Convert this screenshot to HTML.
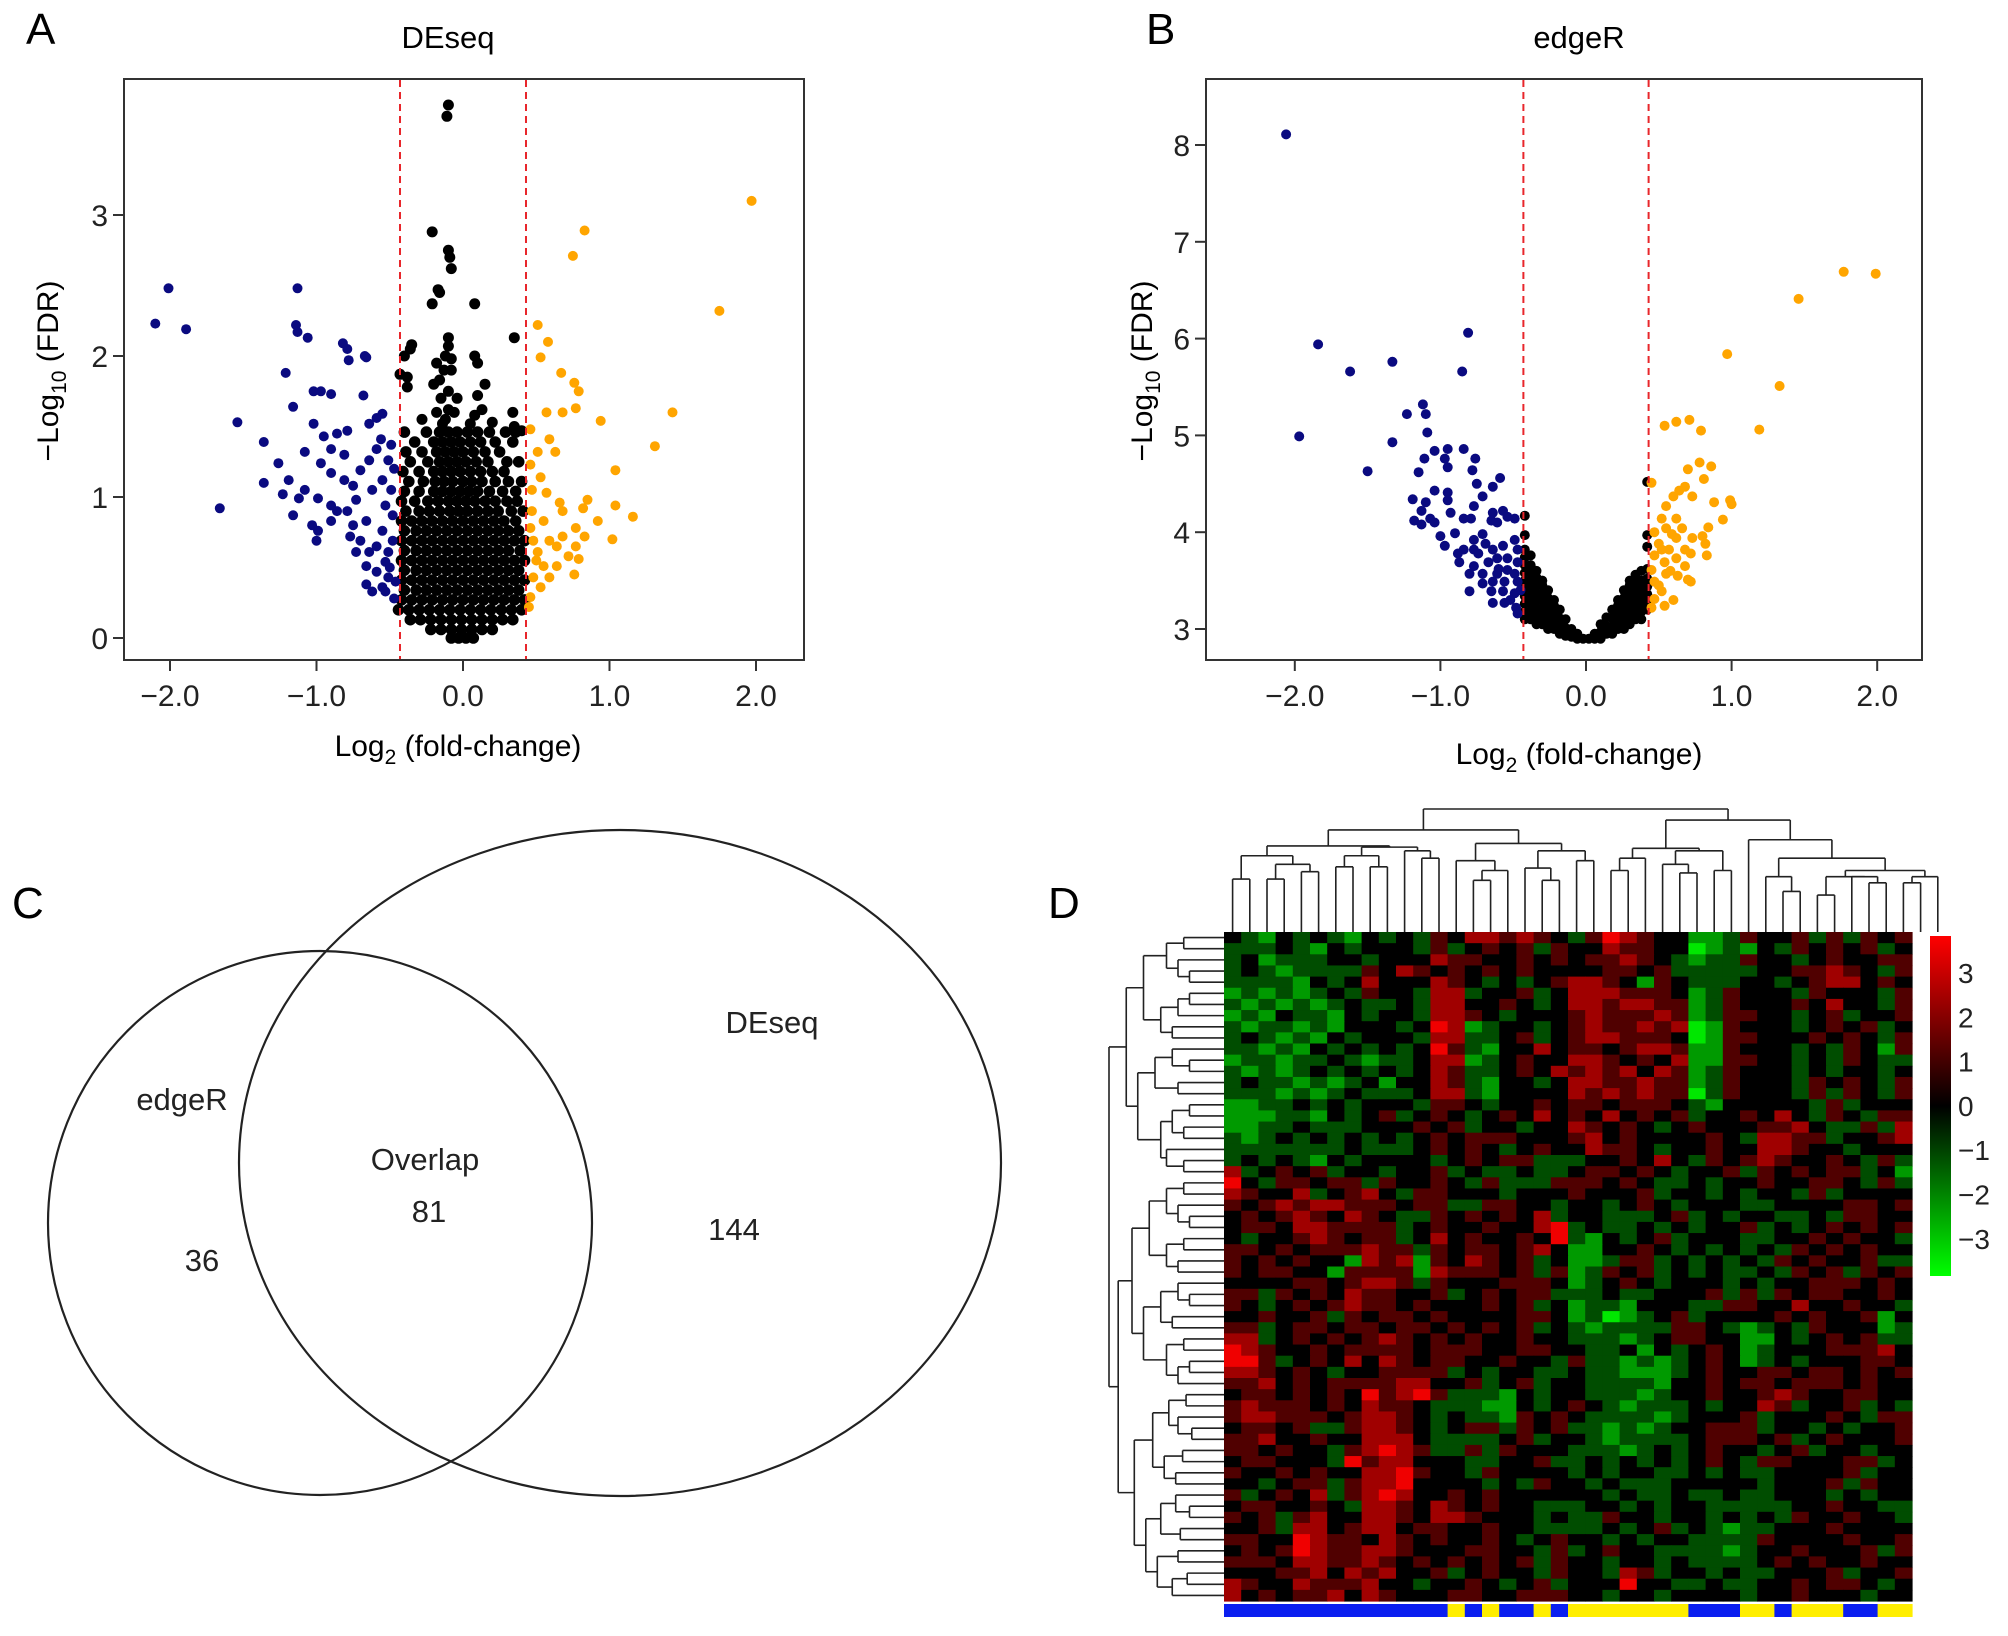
<!DOCTYPE html>
<html><head><meta charset="utf-8"><style>
body{margin:0;background:#fff;}
svg{display:block;font-family:"Liberation Sans",Arial,sans-serif;}
</style></head><body>
<svg id="fig" width="2008" height="1636" viewBox="0 0 2008 1636" xmlns="http://www.w3.org/2000/svg">
<rect width="2008" height="1636" fill="#fff"/>
<g id="panelA">
<text x="26" y="44" font-size="44">A</text>
<text x="448" y="48" font-size="31" text-anchor="middle">DEseq</text>
<rect x="124" y="79" width="680" height="581" fill="none" stroke="#333" stroke-width="2"/>
<text x="458" y="756" font-size="30" text-anchor="middle">Log<tspan font-size="21" dy="8">2</tspan><tspan dy="-8"> (fold-change)</tspan></text>
<text transform="translate(58,371) rotate(-90)" font-size="30" text-anchor="middle">−Log<tspan font-size="21" dy="8">10</tspan><tspan dy="-8"> (FDR)</tspan></text>
</g>
<g id="panelB">
<text x="1146" y="44" font-size="44">B</text>
<text x="1579" y="48" font-size="31" text-anchor="middle">edgeR</text>
<rect x="1206" y="79" width="716" height="581" fill="none" stroke="#333" stroke-width="2"/>
<text x="1579" y="764" font-size="30" text-anchor="middle">Log<tspan font-size="21" dy="8">2</tspan><tspan dy="-8"> (fold-change)</tspan></text>
<text transform="translate(1152,371) rotate(-90)" font-size="30" text-anchor="middle">−Log<tspan font-size="21" dy="8">10</tspan><tspan dy="-8"> (FDR)</tspan></text>
</g>
<g id="panelC">
<text x="12" y="918" font-size="44">C</text>
<circle cx="320" cy="1223" r="272" fill="none" stroke="#222" stroke-width="2.2"/>
<ellipse cx="620" cy="1163" rx="381" ry="333" fill="none" stroke="#222" stroke-width="2.2"/>
<g font-size="31" text-anchor="middle" fill="#222">
<text x="182" y="1110">edgeR</text>
<text x="202" y="1271">36</text>
<text x="425" y="1170">Overlap</text>
<text x="429" y="1222">81</text>
<text x="772" y="1033">DEseq</text>
<text x="734" y="1240">144</text>
</g>
</g>
<g id="panelD">
<text x="1048" y="918" font-size="44">D</text>
<defs><linearGradient id="kg" x1="0" y1="0" x2="0" y2="1">
<stop offset="0" stop-color="#ff0000"/><stop offset="0.5" stop-color="#000"/><stop offset="1" stop-color="#00ff00"/></linearGradient></defs>
<rect x="1930" y="936" width="21" height="340" fill="url(#kg)"/>
</g>
</svg>
<script>
// ---------- Panel A data (DEseq) ----------
const aTicksX=[-2,-1,0,1,2];
const aTickLabelsX=["−2.0","−1.0","0.0","1.0","2.0"];
const aTicksY=[0,1,2,3];
const aThresh=[-0.43,0.43];
const aDown=[[-2.10,2.23],[-2.01,2.48],[-1.89,2.19],[-1.66,0.92],[-1.54,1.53],[-1.36,1.39],[-1.36,1.10],[-1.26,1.24],[-1.23,1.02],[-1.21,1.88],[-1.16,1.64],[-1.13,2.48],[-1.14,2.22],[-1.13,2.17],[-1.06,2.13],[-1.19,1.12],[-1.16,0.87],[-1.08,1.32],[-1.02,1.75],[-0.97,1.75],[-0.9,1.73],[-1.02,1.52],[-1.03,0.8],[-1.0,0.69],[-0.99,0.76],[-0.95,1.43],[-0.9,1.34],[-0.86,1.45],[-0.79,1.47],[-0.82,2.09],[-0.79,2.05],[-0.78,1.97],[-0.66,1.99],[-0.67,2.0],[-0.68,1.72],[-0.9,1.17],[-0.81,1.12],[-0.86,0.9],[-0.9,0.83],[-0.77,0.72],[-0.73,0.61],[-0.66,0.51],[-0.66,0.38],[-0.62,0.33],[-0.55,0.36],[-0.51,0.43],[-0.55,1.59],[-0.59,1.56],[-0.64,1.52],[-0.56,1.41],[-0.59,1.34],[-0.51,1.26],[-0.64,1.26],[-0.7,1.19],[-0.55,1.12],[-0.62,1.05],[-0.73,0.98],[-0.53,0.94],[-0.79,0.9],[-0.66,0.83],[-0.55,0.76],[-0.59,0.65],[-0.51,0.61],[-0.53,0.54],[-0.64,0.61],[-0.7,0.69],[-0.75,0.8],[-0.59,0.47],[-0.48,0.87],[-0.49,1.05],[-0.49,1.37],[-0.99,0.99],[-1.08,1.05],[-1.12,0.99],[-0.9,0.94],[-0.97,1.24],[-0.81,1.3],[-0.75,1.08],[-0.48,0.69],[-0.46,0.4],[-0.53,0.33],[-0.47,1.2],[-0.5,0.5],[-0.47,0.28]];
const aUp=[[1.97,3.1],[0.83,2.89],[0.75,2.71],[1.75,2.32],[0.51,2.22],[0.58,2.1],[0.53,1.99],[0.67,1.88],[0.76,1.81],[0.79,1.75],[1.43,1.6],[0.57,1.6],[0.68,1.6],[0.77,1.63],[0.94,1.54],[0.46,1.48],[0.59,1.41],[0.63,1.32],[1.31,1.36],[0.51,1.32],[0.46,1.23],[0.53,1.14],[1.04,1.19],[0.57,1.03],[0.66,0.96],[0.85,0.98],[0.82,0.92],[1.04,0.94],[1.16,0.86],[0.92,0.83],[0.77,0.78],[0.83,0.72],[1.02,0.7],[0.68,0.72],[0.59,0.69],[0.51,0.61],[0.64,0.65],[0.77,0.65],[0.72,0.58],[0.79,0.56],[0.55,0.51],[0.64,0.51],[0.48,0.43],[0.59,0.43],[0.76,0.45],[0.53,0.36],[0.46,0.29],[0.45,0.22],[0.48,0.69],[0.47,0.9],[0.55,0.83],[0.68,0.9],[0.47,1.05],[0.5,0.55],[0.46,0.78]];
const aBlackY=[0.0,0.06,0.13,0.2,0.27,0.34,0.41,0.48,0.55,0.62,0.69,0.76,0.83,0.9,0.97,1.04,1.11,1.18,1.25,1.32,1.39,1.46];
const aBlackX=[
[-0.08,-0.03,0.02,0.07],
[-0.22,-0.15,-0.08,-0.01,0.06,0.13,0.2],
[-0.36,-0.29,-0.22,-0.15,-0.08,-0.01,0.06,0.13,0.2,0.27,0.34],
[-0.44,-0.37,-0.3,-0.23,-0.16,-0.09,-0.02,0.05,0.12,0.19,0.26,0.33,0.4],
[-0.42,-0.35,-0.28,-0.21,-0.14,-0.07,0,0.07,0.14,0.21,0.28,0.35,0.42],
[-0.4,-0.32,-0.25,-0.18,-0.11,-0.04,0.03,0.1,0.17,0.24,0.31,0.38],
[-0.42,-0.35,-0.28,-0.21,-0.14,-0.07,0,0.07,0.14,0.21,0.28,0.35,0.42],
[-0.4,-0.32,-0.25,-0.18,-0.11,-0.04,0.03,0.1,0.17,0.24,0.31,0.38],
[-0.42,-0.35,-0.28,-0.21,-0.14,-0.07,0,0.07,0.14,0.21,0.28,0.35,0.42],
[-0.4,-0.32,-0.25,-0.18,-0.11,-0.04,0.03,0.1,0.17,0.24,0.31,0.39],
[-0.42,-0.35,-0.28,-0.21,-0.14,-0.07,0,0.07,0.14,0.21,0.28,0.35,0.42],
[-0.4,-0.32,-0.25,-0.18,-0.11,-0.04,0.03,0.1,0.17,0.24,0.31,0.38],
[-0.42,-0.35,-0.28,-0.21,-0.14,-0.07,0,0.07,0.14,0.21,0.28,0.36],
[-0.39,-0.3,-0.23,-0.16,-0.09,-0.03,0.03,0.1,0.17,0.24,0.33,0.41],
[-0.42,-0.33,-0.24,-0.17,-0.1,-0.04,0.02,0.08,0.15,0.22,0.3,0.37],
[-0.4,-0.3,-0.2,-0.14,-0.08,-0.02,0.04,0.1,0.18,0.27,0.36],
[-0.37,-0.27,-0.19,-0.13,-0.07,0,0.06,0.13,0.22,0.31,0.4],
[-0.41,-0.3,-0.2,-0.14,-0.08,-0.02,0.05,0.12,0.2,0.28],
[-0.36,-0.24,-0.16,-0.1,-0.04,0.02,0.09,0.17,0.3,0.38],
[-0.39,-0.28,-0.18,-0.12,-0.06,0,0.07,0.15,0.25],
[-0.33,-0.2,-0.14,-0.08,-0.02,0.05,0.12,0.22,0.34],
[-0.4,-0.25,-0.16,-0.1,-0.04,0.03,0.1,0.18,0.29,0.36]];
const aBlackExtra=[[-0.1,3.78],[-0.11,3.7],[-0.21,2.88],[-0.1,2.75],[-0.09,2.7],[-0.08,2.62],[-0.17,2.47],[-0.16,2.45],[-0.21,2.37],[0.08,2.37],[0.08,2.0],[0.1,1.95],[-0.08,1.98],[-0.12,1.55],[-0.18,1.6],[-0.1,1.62],[-0.15,1.7],[-0.1,1.75],[-0.2,1.8],[-0.13,1.9],[-0.08,1.9],[-0.18,1.95],[-0.12,2.0],[-0.1,2.07],[-0.1,2.13],[0.08,1.58],[0.1,1.72],[0.15,1.8],[-0.38,1.85],[-0.38,1.78],[-0.4,2.0],[-0.36,2.05],[-0.35,2.08],[0.35,2.13],[0.34,1.6],[0.35,1.5],[0.4,1.47],[-0.43,1.87],[-0.14,1.52],[-0.06,1.6],[0.05,1.52],[0.2,1.53],[-0.28,1.55],[-0.04,1.7],[-0.16,1.83],[0.13,1.62]];

// ---------- Panel B data (edgeR) ----------
const bTicksX=[-2,-1,0,1,2];
const bTickLabelsX=["−2.0","−1.0","0.0","1.0","2.0"];
const bTicksY=[3,4,5,6,7,8];
const bThresh=[-0.43,0.43];
const bDown=[[-2.06,8.11],[-1.97,4.99],[-1.84,5.94],[-1.62,5.66],[-1.5,4.63],[-1.33,5.76],[-1.33,4.93],[-0.81,6.06],[-0.85,5.66],[-1.23,5.22],[-1.12,5.32],[-1.1,5.22],[-1.09,5.03],[-1.04,4.84],[-1.11,4.76],[-0.95,4.86],[-0.97,4.76],[-0.95,4.67],[-0.84,4.86],[-0.76,4.76],[-0.78,4.64],[-1.15,4.62],[-0.59,4.56],[-0.64,4.47],[-0.75,4.5],[-1.04,4.43],[-0.95,4.41],[-0.95,4.33],[-0.71,4.37],[-1.19,4.34],[-1.1,4.31],[-1.13,4.22],[-0.77,4.27],[-0.79,4.14],[-0.84,4.14],[-0.93,4.2],[-1.07,4.14],[-1.18,4.12],[-1.13,4.08],[-1.04,4.1],[-0.64,4.2],[-0.57,4.22],[-0.54,4.16],[-0.49,4.14],[-0.61,4.1],[-0.65,4.12],[-1.0,3.96],[-0.9,3.99],[-0.97,3.86],[-0.71,3.98],[-0.77,3.92],[-0.69,3.88],[-0.84,3.82],[-0.74,3.78],[-0.64,3.82],[-0.57,3.86],[-0.49,3.92],[-0.47,3.82],[-0.87,3.69],[-0.77,3.65],[-0.67,3.69],[-0.61,3.73],[-0.54,3.73],[-0.47,3.69],[-0.8,3.57],[-0.71,3.57],[-0.61,3.57],[-0.54,3.61],[-0.49,3.57],[-0.64,3.49],[-0.56,3.49],[-0.47,3.49],[-0.8,3.39],[-0.65,3.39],[-0.57,3.39],[-0.49,3.37],[-0.64,3.27],[-0.56,3.27],[-0.48,3.22],[-0.47,3.16],[-0.71,3.47],[-0.77,3.82],[-0.88,3.78],[-0.52,3.3],[-0.6,3.62],[-0.45,3.4]];
const bUp=[[1.77,6.69],[1.99,6.67],[1.46,6.41],[0.97,5.84],[1.33,5.51],[1.19,5.06],[0.54,5.1],[0.62,5.14],[0.71,5.16],[0.79,5.05],[0.78,4.72],[0.86,4.68],[0.7,4.65],[0.81,4.55],[0.45,4.51],[0.68,4.47],[0.64,4.43],[0.6,4.37],[0.73,4.37],[0.88,4.31],[0.99,4.33],[1.0,4.29],[0.55,4.27],[0.52,4.14],[0.62,4.14],[0.94,4.13],[0.55,4.04],[0.66,4.04],[0.84,4.05],[0.47,4.0],[0.62,3.94],[0.73,3.94],[0.8,3.96],[0.82,3.88],[0.5,3.88],[0.57,3.82],[0.72,3.78],[0.83,3.76],[0.47,3.76],[0.54,3.69],[0.62,3.73],[0.68,3.65],[0.45,3.61],[0.55,3.57],[0.63,3.55],[0.72,3.49],[0.7,3.51],[0.47,3.49],[0.52,3.39],[0.47,3.31],[0.54,3.24],[0.45,3.22],[0.59,3.98],[0.68,3.82],[0.52,3.82],[0.58,3.6],[0.5,3.45],[0.6,3.3]];
const bBlackX=[-0.42,-0.38,-0.34,-0.3,-0.26,-0.22,-0.18,-0.14,-0.1,-0.06,-0.02,0.02,0.06,0.1,0.14,0.18,0.22,0.26,0.3,0.34,0.38,0.42];
const bBlackY=[
[3.1,3.18,3.26,3.34,3.42,3.5,3.58,3.66,3.74,3.82,3.97,4.17],
[3.1,3.18,3.26,3.34,3.42,3.5,3.58,3.66,3.76],
[3.05,3.13,3.21,3.29,3.37,3.45,3.53,3.6],
[3.05,3.13,3.21,3.29,3.37,3.45,3.5],
[3.0,3.08,3.16,3.24,3.32,3.4],
[3.0,3.08,3.16,3.24,3.3],
[2.95,3.03,3.11,3.2],
[2.93,3.01,3.1],
[2.92,3.0],
[2.9,2.95],
[2.9],
[2.9],
[2.9,2.95],
[2.9,2.97,3.05],
[2.95,3.03,3.12],
[2.95,3.03,3.11,3.2],
[3.0,3.08,3.16,3.24,3.3],
[3.0,3.08,3.16,3.24,3.32,3.4],
[3.05,3.13,3.21,3.29,3.37,3.45,3.5],
[3.1,3.18,3.26,3.34,3.42,3.5,3.56],
[3.1,3.18,3.26,3.34,3.42,3.5,3.6],
[3.2,3.28,3.36,3.44,3.52,3.62,3.85,3.97,4.52]];

// ---------- Panel D data (heatmap) ----------
const hmRows=[
"3213232132 3243554543 2465433112 4334242434",
"2223213233 3242343424 3354433012 1324343423",
"2312223323 3354433434 3445432122 4332343344",
"2321222243 5434343433 3344342222 2334454324",
"2222132353 3354323234 5543143222 3323455343",
"1212123243 3255233423 5554443124 3332433324",
"2121212322 3255334323 5545544124 3334353324",
"1213221323 3255432333 4544454124 4332342334",
"2122121333 2365123323 4544545014 3332343423",
"2321213233 3255223423 4554443014 4333434324",
"2212132323 2364213353 4434554114 3332324314",
"1221223212 2355123433 5543435114 4332324322",
"2121232323 2354223435 4545354124 3332323323",
"2322121231 3354213323 5544544124 3332434324",
"2221212322 2355213333 5454544024 3332424324",
"1122323233 3244323343 4434443213 3333242333",
"1112213234 2343234353 4353434233 4353243244",
"1122322233 3434233233 5434323433 3445322425",
"2123232323 2343444333 4534333343 2554423345",
"2222222322 2343432343 3544323343 3554332333",
"2323213233 3323434422 2334353243 4543343242",
"5234342332 3342322322 3443432334 2434344231",
"6324434424 3343242224 4434322323 3433443242",
"5433523453 2443332333 4333423323 2332423333",
"4345455444 3442244332 3323432333 2233334434",
"3434543543 2243434352 3322234232 3322324433",
"3443554444 2343343356 2322323233 4232343434",
"3233454344 2353433436 2132342333 2233434332",
"4434344454 4243443453 1133432323 2324343433",
"4343433154 5143543423 1124423232 3243433422",
"4344331444 4154443424 1243423232 2324342434",
"3333443455 4243334443 1234323332 3233444343",
"4424343544 3342343442 2232233342 4243443343",
"4323434544 3433343423 1221333224 4335334332",
"3343342434 4343333443 1201234233 3343433413",
"4423443443 4434343423 2122224432 1232433312",
"5523434345 4343433433 2221234433 1132343422",
"6543343444 4344433443 3223132343 1233344453",
"6642343535 4344334332 4221212343 1232333443",
"5543432334 4442323322 3221112343 3443443434",
"4453434444 5533423423 3222213343 4434443433",
"3443434364 5642221323 3222123343 3454334433",
"4544434354 4322211323 4321222323 3542334232",
"4554443455 4323221434 3222212333 4233343244",
"3443422455 4323442434 2212123344 4233232334",
"4453343355 5322223423 3212222344 4342343334",
"4434332456 5422424333 2221232343 3234233233",
"3443332645 5333223342 2323232343 2443334423",
"4334343355 6433243333 2323322323 2233334233",
"3323442455 6333323243 3232223333 3233342433",
"4234352456 5334343333 3323223223 2233323233",
"3443343255 4354343322 2332323322 2223343322",
"4342453355 4355433323 2243323323 2324334332",
"3342553455 3443343322 2232342321 2233343333",
"4433654435 4343343234 3323233222 2433334334",
"3434654455 4333443324 2343322221 2334333424",
"4443554454 3434343424 3323323222 2343433433",
"3334453545 3342343324 3325423323 2233342334",
"5433544453 3233432342 3336332232 2334344323",
"5343445354 3334433444 3323323333 2334333233"];
const hmGroups="BBBBBBBBBBBBBYBYBBYBYYYYYYYBBBYYBYYYBBYY";
const keyTicks=[3,2,1,0,-1,-2,-3];
const colTree=[1.0,
 [0.83,
  [0.70,[0.62,[0.43,0,0],[0.55,[0.43,0,0],[0.49,0,0]]],
        [0.69,[0.62,[0.53,0,0],[0.53,0,0]],[0.66,0,[0.60,0,0]]]],
  [0.72,[0.58,0,[0.50,[0.42,0,0],0]],[0.66,[0.52,0,[0.42,0,0]],[0.58,0,0]]]],
 [0.91,
  [0.68,[0.60,[0.50,0,0],0],[0.66,[0.55,0,[0.48,0,0]],[0.50,0,0]]],
  [0.75,0,[0.60,[0.45,0,[0.33,0,0]],[0.50,[0.45,[0.30,0,0],[0.45,0,[0.40,0,0]]],[0.45,[0.40,0,0],0]]]]]];
const rowTree=[1.0,
 [0.85,[0.70,[0.50,[0.35,0,0],[0.40,0,[0.30,0,0]]],[0.55,[0.40,[0.30,0,0],0],[0.45,0,0]]],
       [0.75,[0.60,[0.45,0,[0.30,0,0]],[0.40,0,0]],[0.55,[0.45,[0.30,0,0],[0.35,0,0]],[0.50,0,[0.35,0,0]]]]],
 [0.92,
  [0.80,[0.65,[0.50,[0.35,0,0],[0.40,0,[0.30,0,0]]],[0.50,[0.35,0,0],[0.40,0,0]]],
        [0.70,[0.55,[0.40,0,[0.30,0,0]],[0.45,0,0]],[0.50,[0.35,0,0],[0.40,[0.30,0,0],0]]]],
  [0.78,[0.62,[0.48,[0.33,0,0],[0.40,0,[0.28,0,0]]],[0.52,[0.36,0,0],[0.42,0,0]]],
        [0.68,[0.55,[0.42,0,[0.30,0,0]],[0.38,0,0]],[0.58,[0.40,0,0],[0.45,[0.32,0,0],0]]]]]];

const NS="http://www.w3.org/2000/svg";
const svg=document.getElementById('fig');
function mk(tag,attrs,parent){const e=document.createElementNS(NS,tag);for(const k in attrs)e.setAttribute(k,attrs[k]);(parent||svg).appendChild(e);return e;}

function volcano(gid,cfg){
  const g=document.getElementById(gid);
  const sx=v=>cfg.x0+v*cfg.kx, sy=v=>cfg.y0-(v-cfg.yb)*cfg.ky;
  cfg.tx.forEach((t,i)=>{
    const l=mk('line',{x1:sx(t),x2:sx(t),y1:cfg.bottom,y2:cfg.bottom+11,stroke:'#333','stroke-width':2},g);
    
    
    const tx=mk('text',{x:sx(t),y:cfg.bottom+46,'font-size':30,'text-anchor':'middle',fill:'#222'},g);
    
    
    tx.textContent=cfg.txl[i];
  });
  cfg.ty.forEach(t=>{
    const l=mk('line',{x1:cfg.left-11,x2:cfg.left,y1:sy(t),y2:sy(t),stroke:'#333','stroke-width':2},g);
    
    
    const tx=mk('text',{x:cfg.left-16,y:sy(t)+11,'font-size':30,'text-anchor':'end',fill:'#222'},g);
    
    
    tx.textContent=String(t);
  });
  const dot=(p,col,name,r)=>{
    const c=mk('circle',{cx:sx(p[0]).toFixed(1),cy:sy(p[1]).toFixed(1),r:r||5,fill:col},g);
    
    
  };
  cfg.blackRows(dot);
  cfg.down.forEach(p=>dot(p,'#0a0a80','down-regulated-point'));
  cfg.up.forEach(p=>dot(p,'#ffa500','up-regulated-point'));
  cfg.th.forEach(t=>{
    const l=mk('line',{x1:sx(t),x2:sx(t),y1:cfg.top+1,y2:cfg.bottom-1,stroke:'#e8262b','stroke-width':2,'stroke-dasharray':'7,5'},g);
    
    
  });
}
volcano('panelA',{x0:463,kx:146.5,y0:638,yb:0,ky:141,left:124,top:79,bottom:660,tx:aTicksX,txl:aTickLabelsX,ty:aTicksY,th:aThresh,down:aDown,up:aUp,
  blackRows:dot=>{aBlackY.forEach((y,i)=>aBlackX[i].forEach(x=>dot([x,y],'#000','not-significant-point',5.8)));aBlackExtra.forEach(p=>dot(p,'#000','not-significant-point',5.5));}});
volcano('panelB',{x0:1586,kx:145.6,y0:629,yb:3,ky:96.8,left:1206,top:79,bottom:660,tx:bTicksX,txl:bTickLabelsX,ty:bTicksY,th:bThresh,down:bDown,up:bUp,
  blackRows:dot=>{bBlackX.forEach((x,i)=>bBlackY[i].forEach(y=>dot([x,y],'#000','not-significant-point')));}});

(function(){
  const g=document.getElementById('panelD');
  const rows=hmRows.map(r=>r.replace(/ /g,''));
  const nR=rows.length,nC=rows[0].length;
  const X0=1224,X1=1912,Y0=932,Y1=1601;
  const cw=(X1-X0)/nC,ch=(Y1-Y0)/nR;
  const color=d=>{const v=+d-3;if(v>=0)return `rgb(${Math.round(v*80)},0,0)`;return `rgb(0,${Math.round(-v*77)},0)`;};
  rows.forEach((r,i)=>{for(let j=0;j<nC;j++){
    const c=mk('rect',{x:(X0+j*cw).toFixed(2),y:(Y0+i*ch).toFixed(2),width:(cw+0.6).toFixed(2),height:(ch+0.6).toFixed(2),fill:color(r[j])},g);
    
    
  }});
  for(let j=0;j<hmGroups.length;j++){
    const c=mk('rect',{x:(X0+j*cw).toFixed(2),y:1604,width:(cw+0.6).toFixed(2),height:13,fill:hmGroups[j]==='B'?'#0a1ef0':'#ffee00'},g);
    
    
  }
  function walk(node,ctr){ if(node===0){const p=ctr.i++;return {p:p,h:0};}
    const a=walk(node[1],ctr),b=walk(node[2],ctr);return {p:(a.p+b.p)/2,h:node[0],a:a,b:b};}
  function draw(n,fpos,fh,horizontal){ if(!n.a)return;
    const segs=[];
    [n.a,n.b].forEach(c=>{ if(horizontal){segs.push([fh(n.h),fpos(c.p),fh(c.h),fpos(c.p)]);} else {segs.push([fpos(c.p),fh(n.h),fpos(c.p),fh(c.h)]);} draw(c,fpos,fh,horizontal);});
    if(horizontal)segs.push([fh(n.h),fpos(n.a.p),fh(n.h),fpos(n.b.p)]); else segs.push([fpos(n.a.p),fh(n.h),fpos(n.b.p),fh(n.h)]);
    segs.forEach(s=>{const l=mk('line',{x1:s[0],y1:s[1],x2:s[2],y2:s[3],stroke:'#222','stroke-width':1.6},g);
      
      });
  }
  const ct=walk(colTree,{i:0});
  draw(ct,p=>X0+(p+0.5)*cw,h=>Y0-h*123,false);
  const rt=walk(rowTree,{i:0});
  draw(rt,p=>Y0+(p+0.5)*ch,h=>X0-h*115,true);
  keyTicks.forEach(t=>{
    const tx=mk('text',{x:1958,y:(983+(3-t)*44.3).toFixed(1),'font-size':28,fill:'#222'},g);
    
    
    tx.textContent=t<0?'−'+(-t):String(t);
  });
})();
</script>
</body></html>
